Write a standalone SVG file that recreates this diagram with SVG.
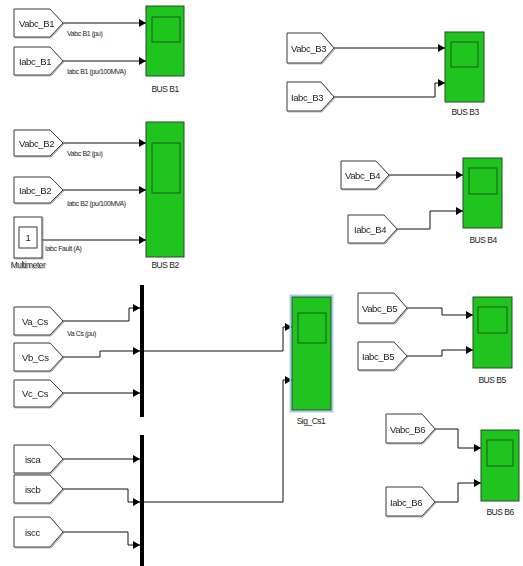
<svg xmlns="http://www.w3.org/2000/svg" width="523" height="566" viewBox="0 0 523 566">
  <style>
    .goto { fill: #ffffff; stroke: #3a3a3a; stroke-width: 1; }
    .gtxt { font-family: "Liberation Sans", Arial, sans-serif; font-size: 9.5px; fill: #222; letter-spacing: -0.4px; }
    .sig { font-family: "Liberation Sans", Arial, sans-serif; font-size: 7px; fill: #222; letter-spacing: -0.4px; }
    .lbl { font-family: "Liberation Sans", Arial, sans-serif; font-size: 8.5px; fill: #222; letter-spacing: -0.5px; text-anchor: middle; }
    .scope { fill: #1fc41f; stroke: #2b4a2b; stroke-width: 1; }
    .screen { fill: #1fc41f; stroke: #1d5a1d; stroke-width: 1; }
    .wire { fill: none; stroke: #111; stroke-width: 1; marker-end: url(#arrow); }
    .wire-plain { fill: none; stroke: #111; stroke-width: 1; }
    .bar { fill: #000; }
  </style>
  <defs>
    <marker id="arrow" markerUnits="userSpaceOnUse" markerWidth="7" markerHeight="8" refX="7" refY="4" orient="auto">
      <path d="M0,0 L7,4 L0,8 Z" fill="#000"/>
    </marker>
    <filter id="shadow" x="-10%" y="-10%" width="130%" height="130%">
      <feDropShadow dx="1" dy="1" stdDeviation="0.6" flood-color="#888" flood-opacity="0.6"/>
    </filter>
  </defs>

  <rect width="523" height="566" fill="#ffffff"/>

  <!-- Connectors -->
  <g id="connectors">
    <path class="wire" d="M63,23 H146"/>
    <path class="wire" d="M63,61 H146"/>
    <path class="wire" d="M63,143 H146"/>
    <path class="wire" d="M63,190 H146"/>
    <path class="wire" d="M42,240 H146"/>
    <path class="wire" d="M334,48 H445"/>
    <path class="wire" d="M334,97 H435 V83 H445"/>
    <path class="wire" d="M389,175 H463"/>
    <path class="wire" d="M397,229 H430 V211 H463"/>
    <path class="wire" d="M63,321 H129 V308 H140"/>
    <path class="wire" d="M63,357 H100 V351 H140"/>
    <path class="wire" d="M63,393 H140"/>
    <path class="wire" d="M144,351 H283 V327 H292"/>
    <path class="wire" d="M63,459 H140"/>
    <path class="wire" d="M63,489 H128 V502 H140"/>
    <path class="wire" d="M63,532 H128 V545 H140"/>
    <path class="wire" d="M144,502 H283 V380 H292"/>
    <path class="wire" d="M407,308 H442 V315 H473"/>
    <path class="wire" d="M407,356 H442 V350 H473"/>
    <path class="wire" d="M435,429 H458 V448 H481"/>
    <path class="wire" d="M435,502 H458 V483 H481"/>
  </g>

  <!-- Signal labels -->
  <g id="signal-labels">
    <text class="sig" x="67" y="36">Vabc B1 (pu)</text>
    <text class="sig" x="67" y="74">Iabc B1 (pu/100MVA)</text>
    <text class="sig" x="67" y="156">Vabc B2 (pu)</text>
    <text class="sig" x="67" y="206">Iabc B2 (pu/100MVA)</text>
    <text class="sig" x="45" y="251">Iabc Fault (A)</text>
    <text class="sig" x="67" y="336">Va Cs (pu)</text>
  </g>

  <!-- Goto tags -->
  <g id="goto-Vabc_B1" filter="url(#shadow)"><path class="goto" d="M14,9 H50 L63,23 L50,37 H14 Z"/><text class="gtxt" x="19" y="27">Vabc_B1</text></g>
  <g id="goto-Iabc_B1" filter="url(#shadow)"><path class="goto" d="M14,47 H50 L63,61 L50,75 H14 Z"/><text class="gtxt" x="19" y="65">Iabc_B1</text></g>
  <g id="goto-Vabc_B2" filter="url(#shadow)"><path class="goto" d="M14,130 H50 L63,143 L50,156 H14 Z"/><text class="gtxt" x="19" y="147">Vabc_B2</text></g>
  <g id="goto-Iabc_B2" filter="url(#shadow)"><path class="goto" d="M14,177 H50 L63,190 L50,203 H14 Z"/><text class="gtxt" x="19" y="194">Iabc_B2</text></g>
  <g id="goto-Vabc_B3" filter="url(#shadow)"><path class="goto" d="M287,33 H321 L334,48 L321,63 H287 Z"/><text class="gtxt" x="291" y="52">Vabc_B3</text></g>
  <g id="goto-Iabc_B3" filter="url(#shadow)"><path class="goto" d="M287,82 H321 L334,97 L321,111 H287 Z"/><text class="gtxt" x="291" y="101">Iabc_B3</text></g>
  <g id="goto-Vabc_B4" filter="url(#shadow)"><path class="goto" d="M341,161 H376 L389,175 L376,189 H341 Z"/><text class="gtxt" x="345" y="179">Vabc_B4</text></g>
  <g id="goto-Iabc_B4" filter="url(#shadow)"><path class="goto" d="M348,215 H384 L397,229 L384,243 H348 Z"/><text class="gtxt" x="354" y="233">Iabc_B4</text></g>
  <g id="goto-Va_Cs" filter="url(#shadow)"><path class="goto" d="M14,307 H50 L63,321 L50,335 H14 Z"/><text class="gtxt" x="22" y="325">Va_Cs</text></g>
  <g id="goto-Vb_Cs" filter="url(#shadow)"><path class="goto" d="M14,343 H50 L63,357 L50,371 H14 Z"/><text class="gtxt" x="22" y="361">Vb_Cs</text></g>
  <g id="goto-Vc_Cs" filter="url(#shadow)"><path class="goto" d="M14,380 H50 L63,393 L50,407 H14 Z"/><text class="gtxt" x="22" y="397">Vc_Cs</text></g>
  <g id="goto-isca" filter="url(#shadow)"><path class="goto" d="M14,445 H50 L63,459 L50,473 H14 Z"/><text class="gtxt" x="25" y="463">isca</text></g>
  <g id="goto-iscb" filter="url(#shadow)"><path class="goto" d="M14,475 H50 L63,489 L50,503 H14 Z"/><text class="gtxt" x="25" y="493">iscb</text></g>
  <g id="goto-iscc" filter="url(#shadow)"><path class="goto" d="M14,517 H50 L63,532 L50,547 H14 Z"/><text class="gtxt" x="25" y="536">iscc</text></g>
  <g id="goto-Vabc_B5" filter="url(#shadow)"><path class="goto" d="M358,293 H394 L407,308 L394,323 H358 Z"/><text class="gtxt" x="362" y="312">Vabc_B5</text></g>
  <g id="goto-Iabc_B5" filter="url(#shadow)"><path class="goto" d="M358,342 H394 L407,356 L394,370 H358 Z"/><text class="gtxt" x="362" y="360">Iabc_B5</text></g>
  <g id="goto-Vabc_B6" filter="url(#shadow)"><path class="goto" d="M386,414 H422 L435,429 L422,443 H386 Z"/><text class="gtxt" x="390" y="433">Vabc_B6</text></g>
  <g id="goto-Iabc_B6" filter="url(#shadow)"><path class="goto" d="M386,487 H422 L435,502 L422,516 H386 Z"/><text class="gtxt" x="390" y="506">Iabc_B6</text></g>

  <!-- Multimeter -->
  <g id="multimeter" filter="url(#shadow)">
    <rect class="goto" x="14" y="217" width="28" height="41"/>
    <rect class="goto" x="19" y="227" width="18" height="21"/>
    <text class="gtxt" x="28" y="241" text-anchor="middle">1</text>
    <text class="lbl" x="28" y="268">Multimeter</text>
  </g>

  <!-- Mux bars -->
  <g id="mux-V"><rect class="bar" x="140" y="285" width="4" height="132"/></g>
  <g id="mux-I"><rect class="bar" x="140" y="435" width="4" height="131"/></g>

  <!-- Scopes -->
  <g id="scope-BUS_B1">
    <rect class="scope" x="146" y="6" width="38" height="70"/>
    <rect class="screen" x="152" y="17" width="28" height="25"/>
    <text class="lbl" x="165" y="92">BUS B1</text>
  </g>
  <g id="scope-BUS_B2">
    <rect class="scope" x="146" y="122" width="38" height="135"/>
    <rect class="screen" x="152" y="143" width="28" height="50"/>
    <text class="lbl" x="165" y="268">BUS B2</text>
  </g>
  <g id="scope-BUS_B3">
    <rect class="scope" x="445" y="32" width="39" height="70"/>
    <rect class="screen" x="451" y="42" width="27" height="25"/>
    <text class="lbl" x="465" y="115">BUS B3</text>
  </g>
  <g id="scope-BUS_B4">
    <rect class="scope" x="463" y="158" width="39" height="70"/>
    <rect class="screen" x="469" y="168" width="28" height="26"/>
    <text class="lbl" x="483" y="243">BUS B4</text>
  </g>
  <g id="scope-Sig_Cs1">
    <rect x="290.5" y="295.5" width="42" height="116" fill="none" stroke="#a9cfe9" stroke-width="2"/>
    <rect class="scope" x="292" y="297" width="39" height="113"/>
    <rect class="screen" x="298" y="313" width="28" height="30"/>
    <text class="lbl" x="311" y="424">Sig_Cs1</text>
  </g>
  <g id="scope-BUS_B5">
    <rect class="scope" x="473" y="297" width="39" height="71"/>
    <rect class="screen" x="478" y="307" width="29" height="26"/>
    <text class="lbl" x="492" y="383">BUS B5</text>
  </g>
  <g id="scope-BUS_B6">
    <rect class="scope" x="481" y="430" width="38" height="71"/>
    <rect class="screen" x="487" y="440" width="26" height="26"/>
    <text class="lbl" x="500" y="515">BUS B6</text>
  </g>
</svg>
